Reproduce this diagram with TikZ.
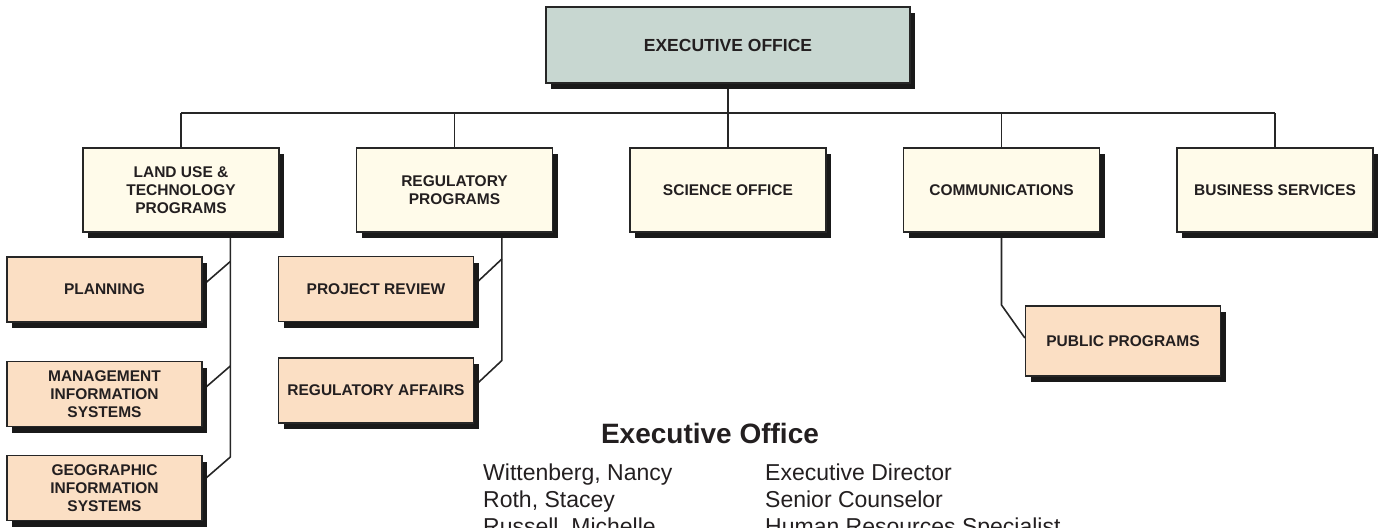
\documentclass[tikz,border=0pt]{standalone}
\usepackage{fontspec}
\setmainfont{Liberation Sans}
\usetikzlibrary{calc,shadows,backgrounds}
\definecolor{execfill}{HTML}{C8D7D1}
\definecolor{cream}{HTML}{FFFBEA}
\definecolor{peach}{HTML}{FBDFC4}
\definecolor{edge}{HTML}{262626}
\definecolor{ink}{HTML}{231F20}
\tikzset{
  box/.style={draw=edge, line width=1.3pt, inner sep=0pt, align=center, text=ink,
    font=\bfseries\fontsize{15.5}{18}\selectfont,
    drop shadow={shadow xshift=5pt, shadow yshift=-6pt, fill=black!90, opacity=1}},
  topbox/.style={box, fill=cream, minimum width=196pt, minimum height=84pt},
  subbox/.style={box, fill=peach, minimum width=195pt, minimum height=65pt},
  execbox/.style={box, fill=execfill, minimum width=364pt, minimum height=76pt,
    font=\bfseries\fontsize{17.5}{20}\selectfont},
  conn/.style={draw=edge, line width=1.6pt},
  body/.style={inner sep=0pt, text=ink, font=\fontsize{23}{27}\selectfont},
}
\begin{document}
\begin{tikzpicture}[x=1pt,y=-1pt]
\useasboundingbox (0,0) rectangle (1380,527);
% top
\node[execbox] (exec) at (728,45) {EXECUTIVE OFFICE};
% first level
\node[topbox] (land) at (181,190) {LAND USE \&\\TECHNOLOGY\\PROGRAMS};
\node[topbox] (regp) at (454.5,190) {REGULATORY\\PROGRAMS};
\node[topbox] (sci)  at (728,190) {SCIENCE OFFICE};
\node[topbox] (comm) at (1001.5,190) {COMMUNICATIONS};
\node[topbox] (bus)  at (1275,190) {BUSINESS SERVICES};
% second level
\node[subbox] (plan) at (104.5,289.5) {PLANNING};
\node[subbox] (mis)  at (104.5,394) {MANAGEMENT\\INFORMATION\\SYSTEMS};
\node[subbox] (gis)  at (104.5,488) {GEOGRAPHIC\\INFORMATION\\SYSTEMS};
\node[subbox] (prj)  at (376,289) {PROJECT REVIEW};
\node[subbox] (rega) at (376,390.5) {REGULATORY AFFAIRS};
\node[subbox, minimum height=70pt] (pub) at (1123,341) {PUBLIC PROGRAMS};
% connectors
\begin{scope}[on background layer]
  \coordinate (bus y) at (0,113);
  \draw[conn] (exec.south) -- (exec.south |- bus y);
  \draw[conn] (land.north |- bus y) -- (bus.north |- bus y);
  \foreach \n in {land,regp,sci,comm,bus}
    \draw[conn] (\n.north |- bus y) -- (\n.north);
  % land use branch
  \coordinate (lv) at ($(land.south)!0.5!(land.south east)$);
  \coordinate (pe) at ($(plan.east)+(0,-4)$);
  \coordinate (me) at ($(mis.east)+(0,-4)$);
  \coordinate (ge) at ($(gis.east)+(0,-7)$);
  \coordinate (pj) at ($(pe -| lv)+(0,-24)$);
  \coordinate (mj) at ($(me -| lv)+(0,-24)$);
  \coordinate (gj) at ($(ge -| lv)+(0,-24)$);
  \draw[conn] (lv) -- (gj) -- (ge);
  \draw[conn] (pj) -- (pe);
  \draw[conn] (mj) -- (me);
  % regulatory branch
  \coordinate (rv) at ($(regp.south)!0.48!(regp.south east)$);
  \coordinate (re1) at ($(prj.east)+(0,-4)$);
  \coordinate (re2) at ($(rega.east)+(0,-4)$);
  \coordinate (rj1) at ($(re1 -| rv)+(0,-26)$);
  \coordinate (rj2) at ($(re2 -| rv)+(0,-26)$);
  \draw[conn] (rv) -- (rj2) -- (re2);
  \draw[conn] (rj1) -- (re1);
  % communications branch
  \coordinate (ce) at ($(pub.west)+(0,-3)$);
  \coordinate (cj) at ($(ce -| comm.south)+(0,-33)$);
  \draw[conn] (comm.south) -- (cj) -- (ce);
\end{scope}
% staff list
\node[inner sep=0pt, anchor=base, text=ink, font=\bfseries\fontsize{28}{32}\selectfont] (head) at (710,443) {Executive Office};
\node[body, anchor=base west] (n1) at (483,480) {Wittenberg, Nancy};
\node[body, anchor=base west] (n2) at (483,507) {Roth, Stacey};
\node[body, anchor=base west] (n3) at (483,534) {Russell, Michelle};
\node[body, anchor=base west] (t1) at (765,480) {Executive Director};
\node[body, anchor=base west] (t2) at (765,507) {Senior Counselor};
\node[body, anchor=base west] (t3) at (765,534) {Human Resources Specialist};
\end{tikzpicture}
\end{document}
